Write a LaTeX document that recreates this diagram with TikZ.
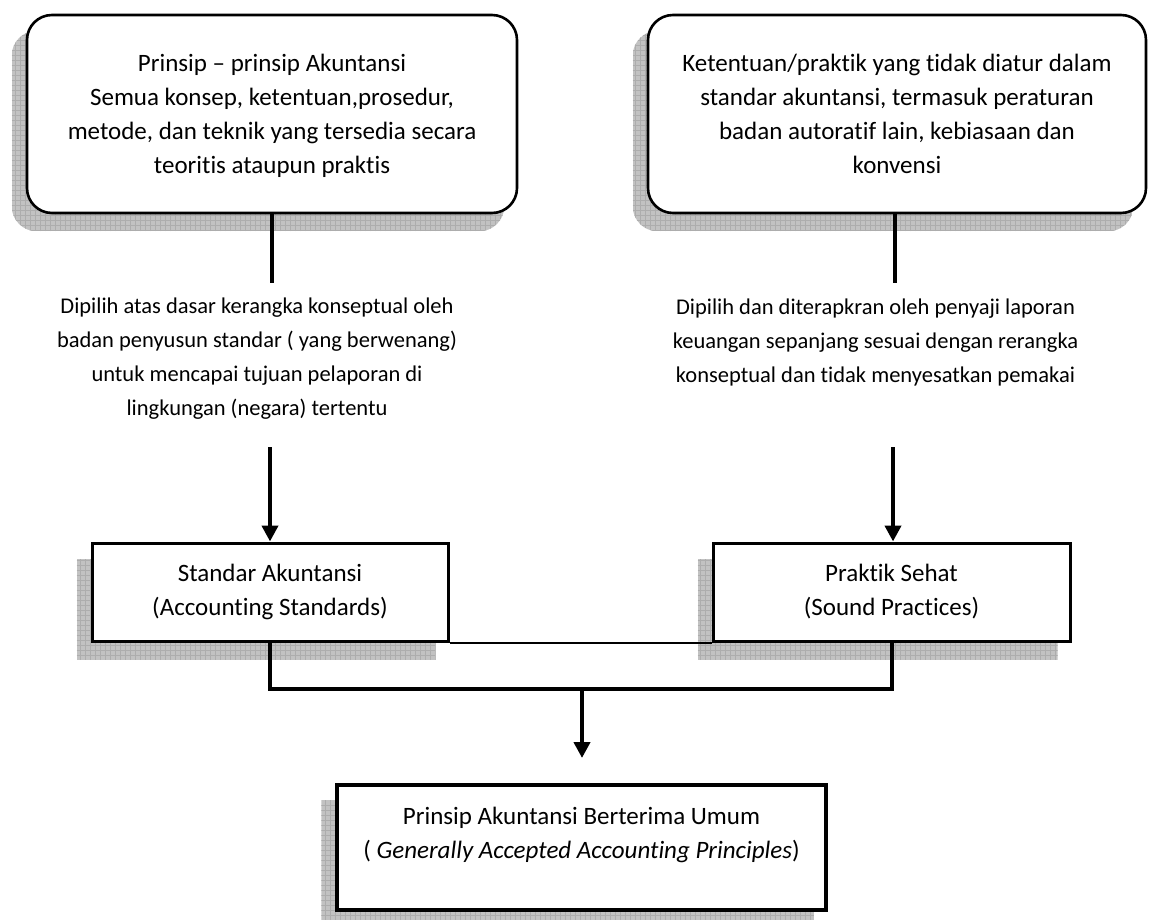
\documentclass[tikz,border=0pt]{standalone}
\usepackage{fontspec}
\setmainfont{Carlito}[Ligatures={TeX,NoCommon}]
\usetikzlibrary{arrows.meta,backgrounds,calc}
\tikzset{
  txt/.style={align=center, font=\fontsize{22.5}{34}\selectfont, text=black},
  boxtxt/.style={align=center, font=\fontsize{25}{34}\selectfont, text=black},
  roundbox/.style={boxtxt, draw=black, line width=2.6pt, fill=white, rounded corners=25pt,
     minimum width=490pt, minimum height=198pt, inner sep=0pt},
  sqbox/.style={boxtxt, draw=black, line width=3pt, fill=white, minimum width=356pt,
     minimum height=98pt, inner sep=0pt},
  conn/.style={draw=black, line width=4pt},
  arr/.style={conn, -{Triangle[width=16pt,length=16pt]}},
  thinconn/.style={draw=black, line width=2pt},
  shadowfill/.style={fill=black!24},
  shadowgrid/.style={draw=black!32, line width=0.5pt},
}
\newcommand\mkshadow[2]{%
  \begin{scope}
    \clip[rounded corners=#2] ([shift={(-14,17)}]#1.south west) rectangle ([shift={(-14,17)}]#1.north east);
    \fill[shadowfill] ([shift={(-14,17)}]#1.south west) rectangle ([shift={(-14,17)}]#1.north east);
    \draw[shadowgrid, step=5pt] ([shift={(-14,17)}]#1.south west) grid ([shift={(-14,17)}]#1.north east);
  \end{scope}}
\begin{document}
\begin{tikzpicture}[x=1pt,y=-1pt]
\useasboundingbox (0,0) rectangle (1150,920);
% top boxes
\node[roundbox, text depth=0pt] (tl) at (272,114) {Prinsip – prinsip Akuntansi\\Semua konsep, ketentuan,prosedur,\\metode, dan teknik yang tersedia secara\\teoritis ataupun praktis};
\node[roundbox, minimum width=498pt, text depth=0pt] (tr) at (897,114) {Ketentuan/praktik yang tidak diatur dalam\\standar akuntansi, termasuk peraturan\\badan autoratif lain, kebiasaan dan\\konvensi};
% middle texts
\node[txt] (ml) at (257,359) {Dipilih atas dasar kerangka konseptual oleh\\badan penyusun standar ( yang berwenang)\\untuk mencapai tujuan pelaporan di\\lingkungan (negara) tertentu};
\node[txt] (mr) at (875.5,342) {Dipilih dan diterapkran oleh penyaji laporan\\keuangan sepanjang sesuai dengan rerangka\\konseptual dan tidak menyesatkan pemakai};
% standard boxes
\node[sqbox] (sa) at (270,592) {Standar Akuntansi\\(Accounting Standards)};
\node[sqbox, minimum width=357pt] (ps) at (891.5,592) {Praktik Sehat\\(Sound Practices)};
% GAAP
\node[sqbox, line width=3.5pt, minimum width=489pt, minimum height=125pt, text depth=30pt] (gaap) at (581.5,847.5) {Prinsip Akuntansi Berterima Umum\\( \textit{Generally Accepted Accounting Principles})};
% shadows
\begin{scope}[on background layer]
  \mkshadow{tl}{25pt}
  \mkshadow{tr}{25pt}
  \mkshadow{sa}{0pt}
  \mkshadow{ps}{0pt}
  \mkshadow{gaap}{0pt}
\end{scope}
% connectors
\coordinate (t1) at (272,283);
\coordinate (t2) at (895,283);
\coordinate (a1) at (270,447);
\coordinate (a2) at (893,447);
\coordinate (jl) at (270,689);
\coordinate (jr) at (891.5,689);
\coordinate (jm) at (582,689);
\coordinate (je) at (582,758);
\draw[conn] (tl.south) -- (t1);
\draw[conn] (tr.south -| t2) -- (t2);
\draw[arr] (a1) -- (sa.north);
\draw[arr] (a2) -- (a2 |- ps.north);
\draw[thinconn] (sa.south east) -- (ps.south west);
\draw[conn] (sa.south) -- (jl) -- (jr) -- (ps.south);
\draw[arr] (jm) -- (je);
\end{tikzpicture}
\end{document}
